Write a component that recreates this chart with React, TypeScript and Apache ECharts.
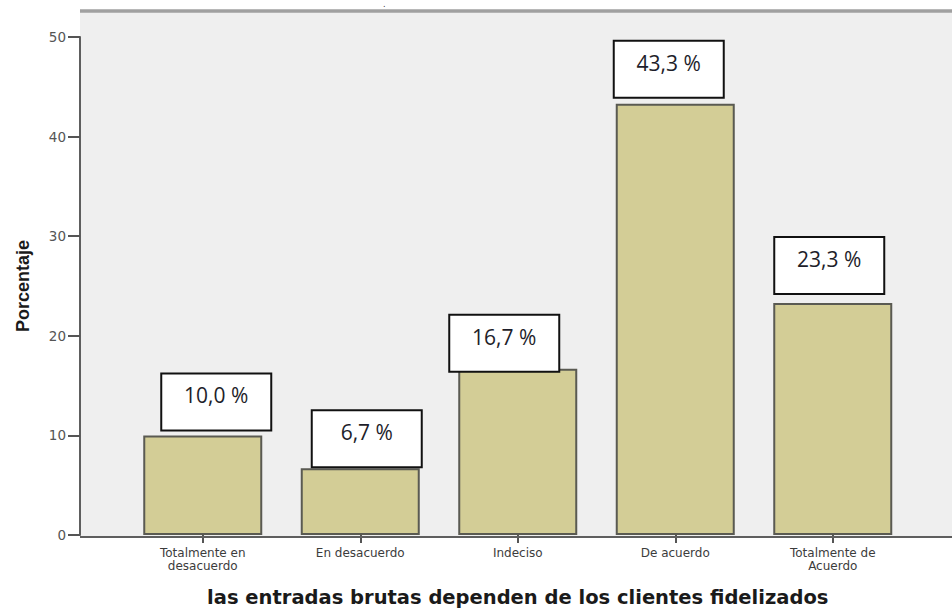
import React, { useEffect, useRef } from "react";
import * as echarts from "echarts";

const categories = [
  "Totalmente en\ndesacuerdo",
  "En desacuerdo",
  "Indeciso",
  "De acuerdo",
  "Totalmente de\nAcuerdo",
];
const percentages = [10.0, 6.7, 16.7, 43.3, 23.3];
const yTicks = { min: 0, max: 50, interval: 10 };
const xTitle = "las entradas brutas dependen de los clientes fidelizados";
const yTitle = "Porcentaje";

// layout nudges of the label boxes (pixels), as placed in the reference
const labelShiftX = [13.5, 6.5, -13.5, -6.5, -3.5];
const labelGap = [6, 2, -2, 7, 10];

export default function App() {
  const ref = useRef<HTMLDivElement>(null);
  useEffect(() => {
    document.body.style.margin = "0";
    if (!ref.current) return;
    const chart = echarts.init(ref.current, null, { renderer: "svg" });
    chart.setOption({
      animation: false,
      backgroundColor: "#ffffff",
      grid: { left: 124, right: 40.5, top: 37, bottom: 75, containLabel: false },
      graphic: [
        {
          type: "rect",
          z: -10,
          shape: { x: 80, y: 11, width: 880, height: 526 },
          style: { fill: "#efefef" },
          silent: true,
        },
        {
          type: "line",
          z: -5,
          shape: { x1: 80, y1: 11, x2: 952, y2: 11 },
          style: { stroke: "#a0a0a0", lineWidth: 3.5 },
          silent: true,
        },
        {
          type: "line",
          z: 5,
          shape: { x1: 80, y1: 537, x2: 952, y2: 537 },
          style: { stroke: "#5e5e5e", lineWidth: 2 },
          silent: true,
        },
        {
          type: "text",
          x: 383,
          y: 0,
          style: { text: ".", fontSize: 8, fill: "#333", fontFamily: "DejaVu Sans" },
        },
      ],
      xAxis: {
        type: "category",
        data: categories,
        boundaryGap: true,
        axisLine: { show: false },
        axisTick: {
          show: true,
          alignWithLabel: true,
          length: 8,
          lineStyle: { color: "#555", width: 2 },
        },
        axisLabel: {
          interval: 0,
          color: "#3c3c3c",
          fontSize: 12,
          lineHeight: 13,
          margin: 11,
          fontFamily: "DejaVu Sans",
        },
        name: xTitle,
        nameLocation: "middle",
        nameGap: 52,
        nameTextStyle: {
          fontSize: 19.5,
          fontWeight: "bold",
          color: "#1a1a1a",
          fontFamily: "DejaVu Sans",
        },
      },
      yAxis: {
        type: "value",
        min: yTicks.min,
        max: yTicks.max,
        interval: yTicks.interval,
        offset: 44,
        splitLine: { show: false },
        axisLine: { show: true, lineStyle: { color: "#5e5e5e", width: 2 } },
        axisTick: { show: true, inside: false, length: 12, lineStyle: { color: "#555", width: 2 } },
        axisLabel: {
          color: "#555",
          fontSize: 13.5,
          margin: 14,
          fontFamily: "DejaVu Sans",
        },
        name: yTitle,
        nameLocation: "middle",
        nameGap: 48,
        nameRotate: 90,
        nameTextStyle: {
          fontSize: 18,
          fontWeight: "bold",
          color: "#1a1a1a",
          fontFamily: "Liberation Sans",
        },
      },
      series: [
        {
          type: "bar",
          data: percentages.map((v, i) => ({
            value: v,
            label: { offset: [labelShiftX[i], -labelGap[i]] },
          })),
          barWidth: 119,
          itemStyle: {
            color: "#d3cd96",
            borderColor: "#5a5a52",
            borderWidth: 2,
          },
          label: {
            show: true,
            position: "top",
            distance: 0,
            formatter: (p: any) => p.value.toFixed(1).replace(".", ",") + " %",
            backgroundColor: "#ffffff",
            borderColor: "#111",
            borderWidth: 2,
            width: 68,
            align: "center",
            padding: [9, 20, 22, 20],
            fontSize: 21,
            lineHeight: 24,
            color: "#1e1e2a",
            fontFamily: "Open Sans",
          },
        },
      ],
    });
    return () => chart.dispose();
  }, []);
  return <div ref={ref} style={{ width: 952, height: 612 }} />;
}
